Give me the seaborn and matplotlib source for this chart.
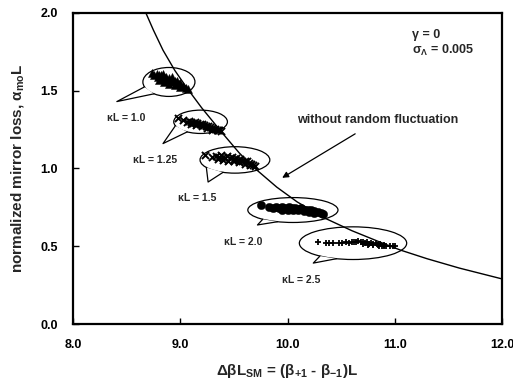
import numpy as np
import pandas as pd
import matplotlib
matplotlib.use("Agg")
import matplotlib.pyplot as plt
from matplotlib.patches import Ellipse, Polygon
import seaborn as sns

# ---- data ----
curve_x = [8.68, 8.75, 8.84, 8.95, 9.06, 9.2, 9.39, 9.55, 9.68, 9.9, 10.09, 10.35, 10.6,
           10.85, 11.05, 11.3, 11.6, 12.0]
curve_y = [2.0, 1.89, 1.76, 1.63, 1.52, 1.39, 1.23, 1.10, 1.01, 0.88, 0.785, 0.68, 0.60,
           0.53, 0.476, 0.42, 0.36, 0.29]

k10_x = [8.74, 8.76, 8.78, 8.79, 8.80, 8.82, 8.83, 8.84, 8.86, 8.87, 8.88, 8.90, 8.91, 8.92,
         8.93, 8.95, 8.96, 8.97, 8.99, 9.00, 9.01, 9.03, 9.05, 9.07, 8.80, 8.85, 8.90, 8.95, 9.00]
k10_y = [1.615, 1.60, 1.61, 1.59, 1.60, 1.60, 1.58, 1.61, 1.58, 1.59, 1.57, 1.58, 1.56, 1.59,
         1.56, 1.56, 1.55, 1.56, 1.54, 1.55, 1.53, 1.53, 1.52, 1.51, 1.57, 1.555, 1.545, 1.535, 1.525]

k125_x = [8.98, 9.03, 9.06, 9.08, 9.10, 9.12, 9.14, 9.16, 9.18, 9.20, 9.22, 9.24, 9.26, 9.28,
          9.30, 9.32, 9.34, 9.36, 9.38, 9.10, 9.15, 9.20, 9.25, 9.30, 9.35]
k125_y = [1.325, 1.31, 1.30, 1.305, 1.30, 1.295, 1.30, 1.29, 1.285, 1.285, 1.28, 1.27, 1.275, 1.265,
          1.26, 1.255, 1.25, 1.245, 1.24, 1.285, 1.28, 1.27, 1.26, 1.25, 1.245]

k15_x = [9.23, 9.30, 9.33, 9.36, 9.38, 9.40, 9.42, 9.44, 9.46, 9.48, 9.50, 9.52, 9.54, 9.56,
         9.58, 9.60, 9.62, 9.64, 9.66, 9.68, 9.70, 9.35, 9.40, 9.45, 9.50, 9.55, 9.60, 9.65]
k15_y = [1.085, 1.075, 1.08, 1.075, 1.085, 1.075, 1.07, 1.08, 1.065, 1.075, 1.06, 1.065, 1.055, 1.06,
         1.05, 1.045, 1.045, 1.035, 1.03, 1.025, 1.015, 1.06, 1.055, 1.05, 1.045, 1.04, 1.03, 1.02]

k20_x = [9.75, 9.83, 9.86, 9.89, 9.92, 9.95, 9.98, 10.01, 10.04, 10.07, 10.10, 10.13, 10.16, 10.19,
         10.22, 10.25, 10.28, 10.31, 10.33, 9.95, 10.0, 10.05, 10.1, 10.15, 10.2, 10.25]
k20_y = [0.765, 0.75, 0.745, 0.75, 0.745, 0.75, 0.745, 0.75, 0.745, 0.745, 0.74, 0.745, 0.735, 0.735,
         0.73, 0.725, 0.72, 0.715, 0.71, 0.735, 0.735, 0.73, 0.73, 0.725, 0.72, 0.715]

k25_x = [10.28, 10.36, 10.39, 10.42, 10.48, 10.51, 10.54, 10.57, 10.60, 10.62, 10.64, 10.66, 10.68,
         10.70, 10.72, 10.74, 10.76, 10.78, 10.80, 10.82, 10.84, 10.86, 10.88, 10.90, 10.92, 10.95,
         10.98, 11.00, 10.70, 10.75, 10.80, 10.85, 10.90]
k25_y = [0.525, 0.52, 0.52, 0.52, 0.52, 0.52, 0.525, 0.52, 0.525, 0.53, 0.525, 0.535, 0.525,
         0.53, 0.52, 0.525, 0.515, 0.52, 0.515, 0.52, 0.51, 0.515, 0.505, 0.51, 0.505, 0.505,
         0.50, 0.50, 0.515, 0.51, 0.51, 0.505, 0.50]

kL_labels = ["1.0", "1.25", "1.5", "2.0", "2.5"]
x_ticks = [8.0, 9.0, 10.0, 11.0, 12.0]
y_ticks = [0.0, 0.5, 1.0, 1.5, 2.0]

# ---- style ----
sns.set_theme(style="white")
plt.rcParams["font.family"] = ["Liberation Sans", "DejaVu Sans"]
plt.rcParams["font.weight"] = "bold"
plt.rcParams["mathtext.fontset"] = "custom"
plt.rcParams["mathtext.rm"] = "Liberation Sans:bold"
plt.rcParams["mathtext.it"] = "Liberation Sans:bold"
plt.rcParams["mathtext.bf"] = "Liberation Sans:bold"

fig = plt.figure(figsize=(5.13, 3.90), dpi=100)
ax = fig.add_axes([0.142, 0.169, 0.837, 0.798])

# curve
sns.lineplot(x=curve_x, y=curve_y, ax=ax, color="black", lw=1.0, zorder=3)

groups = [
    (k10_x, k10_y, "^", dict(s=34, color="black", edgecolor="black", linewidth=0.3)),
    (k125_x, k125_y, "x", dict(s=26, color="black", linewidth=1.4)),
    (k15_x, k15_y, "x", dict(s=26, color="black", linewidth=1.4)),
    (k20_x, k20_y, "o", dict(s=36, color="black", edgecolor="black", linewidth=0.3)),
    (k25_x, k25_y, "+", dict(s=24, color="black", linewidth=1.3)),
]
for gx, gy, mk, kw in groups:
    sns.scatterplot(x=gx, y=gy, marker=mk, ax=ax, zorder=5, legend=False, **kw)

# speech bubbles: center, width, height, tail angles, tip, label position
bubbles = [
    ((8.895, 1.556), 0.485, 0.186, (200, 235), (8.41, 1.43), (8.50, 1.325)),
    ((9.19, 1.30), 0.50, 0.15, (200, 240), (8.84, 1.16), (8.77, 1.055)),
    ((9.51, 1.055), 0.65, 0.17, (215, 250), (9.26, 0.913), (9.16, 0.81)),
    ((10.05, 0.733), 0.84, 0.16, (228, 250), (9.72, 0.637), (9.59, 0.527)),
    ((10.61, 0.52), 1.0, 0.21, (232, 252), (10.24, 0.392), (10.13, 0.283)),
]
for (c, w, h, (a1, a2), tip, lab), lbl in zip(bubbles, kL_labels):
    e = Ellipse(c, w, h, facecolor="none", edgecolor="black", lw=0.9, zorder=2)
    ax.add_patch(e)
    p1 = (c[0] + w / 2 * np.cos(np.radians(a1)), c[1] + h / 2 * np.sin(np.radians(a1)))
    p2 = (c[0] + w / 2 * np.cos(np.radians(a2)), c[1] + h / 2 * np.sin(np.radians(a2)))
    tri = Polygon([p1, tip, p2], closed=True, facecolor="white", edgecolor="none", zorder=2.5)
    ax.add_patch(tri)
    ax.plot([p1[0], tip[0], p2[0]], [p1[1], tip[1], p2[1]], color="black", lw=0.9, zorder=2.6)
    ax.text(lab[0], lab[1], "κL = " + lbl, ha="center", va="center", fontsize=7.5,
            fontweight="bold", zorder=6)

ax.annotate("without random fluctuation", xy=(9.95, 0.94), xytext=(10.84, 1.31),
            ha="center", va="center", fontsize=9, fontweight="bold",
            arrowprops=dict(arrowstyle="-|>", color="black", lw=0.9, shrinkA=6, shrinkB=0,
                            mutation_scale=9))

ax.text(11.16, 1.86, "γ = 0", ha="left", va="center", fontsize=9, fontweight="bold")
ax.text(11.16, 1.76, "σ$_{Λ}$ = 0.005", ha="left", va="center", fontsize=9, fontweight="bold")

ax.set_xlim(8.0, 12.0)
ax.set_ylim(0.0, 2.0)
ax.set_xticks(x_ticks)
ax.set_yticks(y_ticks)
ax.set_xticklabels([f"{v:.1f}" for v in x_ticks], fontsize=9, fontweight="bold")
ax.set_yticklabels([f"{v:.1f}" for v in y_ticks], fontsize=9, fontweight="bold")
ax.tick_params(axis="both", direction="in", length=4, width=1, pad=11,
               bottom=True, left=True, top=False, right=False, colors="black")
for s in ax.spines.values():
    s.set_visible(True)
    s.set_color("black")
    s.set_linewidth(1.6)

ax.set_xlabel("ΔβL$_{SM}$ = (β$_{+1}$ - β$_{-1}$)L", fontsize=11, fontweight="bold", labelpad=8)
ax.set_ylabel("normalized mirror loss, α$_{mo}$L", fontsize=11, fontweight="bold", labelpad=10)

fig.savefig("out.png", dpi=100, facecolor="white")
